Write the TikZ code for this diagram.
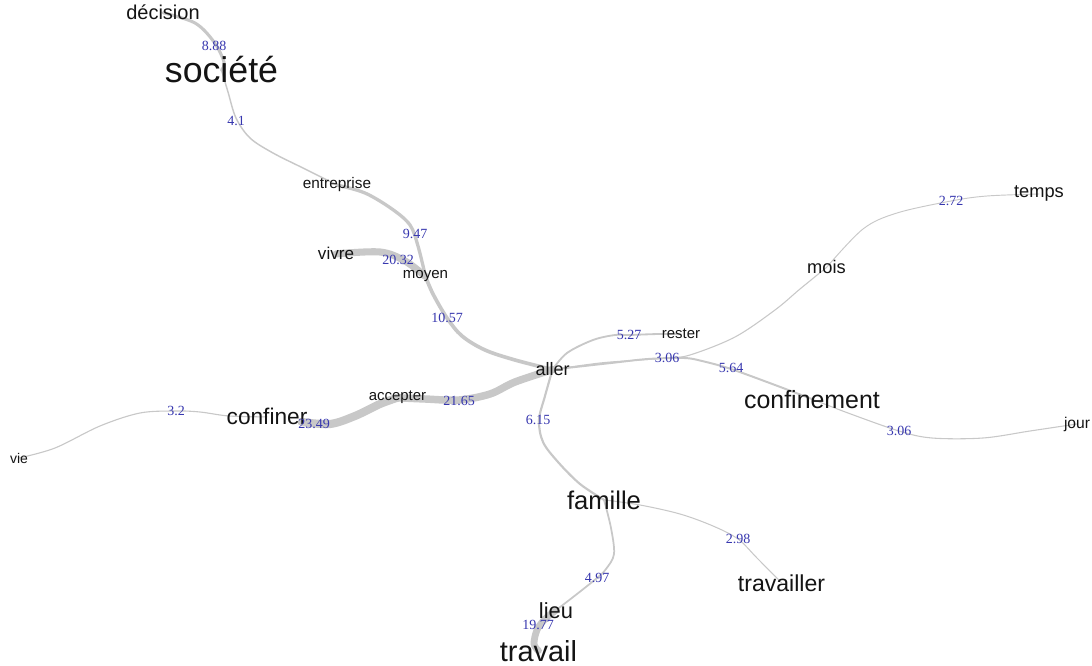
\documentclass[tikz,border=0pt]{standalone}
\usepackage{fontspec}
\setmainfont{Liberation Sans}
\newfontfamily\numfont{Liberation Serif}
\usetikzlibrary{backgrounds}
\definecolor{edgec}{RGB}{200,200,200}
\definecolor{wordc}{RGB}{20,20,20}
\definecolor{numc}{RGB}{55,55,175}
\tikzset{
  word/.style={font=\fontsize{#1}{#1}\selectfont, inner sep=0pt, text=wordc, anchor=base},
  wlab/.style={font=\numfont\fontsize{10.5}{10.5}\selectfont, inner sep=0pt, text=numc},
  edge/.style={draw=edgec, line width=#1, line cap=round, line join=round},
  sm/.style={smooth, tension=0.55}
}
\begin{document}
\begin{tikzpicture}[x=0.75pt,y=-0.75pt]
\useasboundingbox (0,0) rectangle (1092,666);
% words
\node[word=15]   (decision)    at (163,20)  {décision};
\node[word=26.8] (societe)     at (221.5,83) {société};
\node[word=11.5] (entreprise)  at (337,189) {entreprise};
\node[word=12.8] (vivre)       at (336,260) {vivre};
\node[word=11.3] (moyen)       at (425.5,279) {moyen};
\node[word=13.5] (aller)       at (552.5,376) {aller};
\node[word=11.2] (accepter)    at (397.5,401) {accepter};
\node[word=17]   (confiner)    at (267,425) {confiner};
\node[word=10.5] (vie)         at (19,463)  {vie};
\node[word=11.2] (rester)      at (681,339) {rester};
\node[word=13.7] (mois)        at (826.5,274) {mois};
\node[word=13.7] (temps)       at (1039,198) {temps};
\node[word=18.7] (confinement) at (812,408) {confinement};
\node[word=11.7] (jour)        at (1077,428) {jour};
\node[word=19.2] (famille)     at (604,509) {famille};
\node[word=16.4] (lieu)        at (556,618) {lieu};
\node[word=21.7] (travail)     at (538.5,661) {travail};
\node[word=17.3] (travailler)  at (781.5,591) {travailler};
% edges
\begin{pgfonlayer}{background}
\fill[white] (0,0) rectangle (1092,666);
\draw[edge=2.3pt]  plot[sm] coordinates {(decision.center) (195,23) (214,42) (224,62) (societe.center)};
\draw[edge=1.07pt] plot[sm] coordinates {(societe.center) (228,92) (236,118) (250,138) (273,153) (305,169) (entreprise.center)};
\draw[edge=2.46pt] plot[sm] coordinates {(entreprise.center) (365,193) (392,209) (410,225) (418,246) (moyen.center)};
\draw[edge=5.3pt]  plot[sm] coordinates {(vivre.center) (380,252) (405,261) (moyen.center)};
\draw[edge=2.75pt] plot[sm] coordinates {(moyen.center) (433,294) (447,318) (462,336) (485,350) (515,360) (aller.center)};
\draw[edge=5.6pt]  plot[sm] coordinates {(aller.center) (515,382) (490,394) (459,400) (425,399) (accepter.center)};
\draw[edge=6.1pt]  plot[sm] coordinates {(accepter.center) (380,404) (355,416) (330,424) ([shift={(-6,5)}]confiner.east)};
\draw[edge=0.83pt] plot[sm] coordinates {(confiner.center) (229,416) (200,412) (176,411) (140,413) (100,426) (55,448) (vie.center)};
\draw[edge=1.37pt] plot[sm] coordinates {(aller.center) (567,353) (593,340) (615,335) (629,335) (659,334) (rester.center)};
\draw[edge=0.8pt]  plot[sm] coordinates {(aller.center) (600,363) (640,360) (667,358) (690,355) (735,337) (775,310) (800,289) (mois.center)};
\draw[edge=0.7pt]  plot[sm] coordinates {(mois.center) (863,229) (897,213) (951,201) (987,196) (temps.center)};
\draw[edge=1.47pt] plot[sm] coordinates {(aller.center) (611,363) (648,359) (684,358) (702,361) (731,369) (775,385) (confinement.center)};
\draw[edge=0.8pt]  plot[sm] coordinates {(confinement.center) (848,413) (899,431) (932,438) (983,438) (1030,431) (jour.center)};
\draw[edge=1.6pt]  plot[sm] coordinates {(aller.center) (545,396) (539,420) (543,442) (558,462) (580,484) (famille.center)};
\draw[edge=1.3pt]  plot[sm] coordinates {(famille.center) (611,528) (614,554) (606,569) (597,578) (577,594) (lieu.center)};
\draw[edge=5.1pt]  plot[sm] coordinates {(lieu.center) (545,619) (537,630) (534,644) (travail.center)};
\draw[edge=0.77pt] plot[sm] coordinates {(famille.center) (640,505) (680,514) (713,526) (738,539) (757,558) (travailler.center)};
\end{pgfonlayer}
% edge labels
\node[wlab] (l1)  at (214,46)  {8.88};
\node[wlab] (l2)  at (236,121) {4.1};
\node[wlab] (l3)  at (415,234) {9.47};
\node[wlab] (l4)  at (398,260) {20.32};
\node[wlab] (l5)  at (447,318) {10.57};
\node[wlab] (l6)  at (459,401) {21.65};
\node[wlab] (l7)  at (314,424) {23.49};
\node[wlab] (l8)  at (176,411) {3.2};
\node[wlab] (l9)  at (629,335) {5.27};
\node[wlab] (l10) at (667,358) {3.06};
\node[wlab] (l11) at (731,368) {5.64};
\node[wlab] (l12) at (899,431) {3.06};
\node[wlab] (l13) at (951,201) {2.72};
\node[wlab] (l14) at (538,420) {6.15};
\node[wlab] (l15) at (597,578) {4.97};
\node[wlab] (l16) at (738,539) {2.98};
\node[wlab] (l17) at (538,625) {19.77};
\end{tikzpicture}
\end{document}
